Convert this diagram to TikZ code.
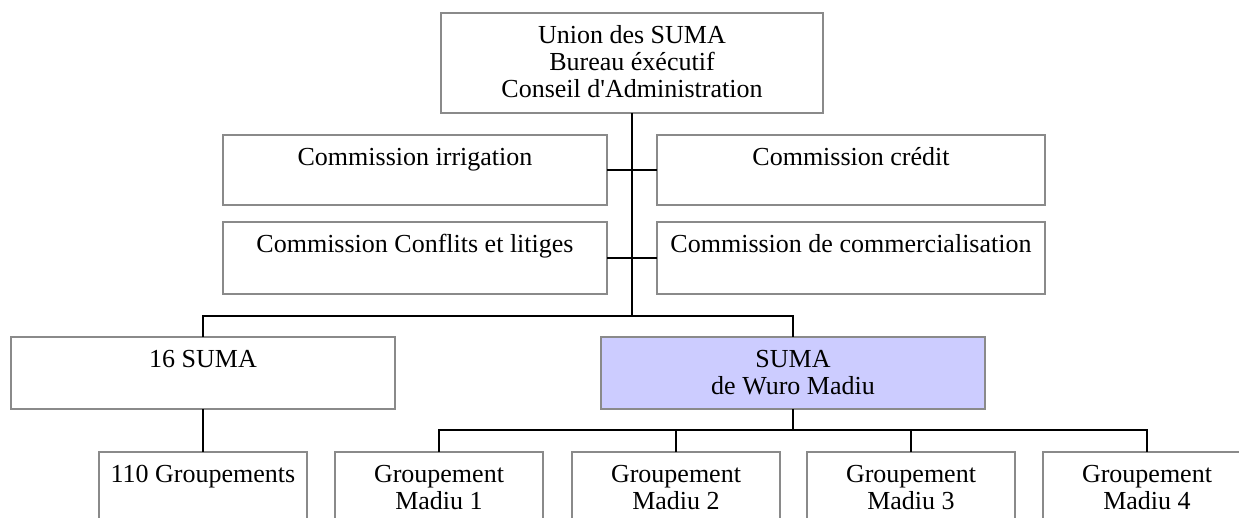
\documentclass[tikz,border=0pt]{standalone}
\usepackage{fontspec}
\setmainfont{Liberation Serif}[Ligatures=TeXOff]
\definecolor{boxgray}{RGB}{138,138,138}
\definecolor{wurofill}{RGB}{204,204,255}
\newcommand\lignes[1]{\begin{tabular}[t]{@{}c@{}}#1\end{tabular}}
\begin{document}
\begin{tikzpicture}[x=1pt,y=-1pt,
  boite/.style={draw=boxgray, line width=2pt, rectangle, inner sep=0pt, outer sep=0pt, anchor=north west},
  texte/.style={anchor=base, inner sep=0pt, outer sep=0pt, font=\fontsize{26}{27}\selectfont},
  lien/.style={draw=black, line width=2pt}]
\clip (0,0) rectangle (1239,517);
\fill[white] (0,0) rectangle (1239,517);
% boxes
\node[boite, minimum width=382pt, minimum height=100pt] (top) at (441,13) {};
\node[boite, minimum width=384pt, minimum height=70pt] (irr) at (223,135) {};
\node[boite, minimum width=388pt, minimum height=70pt] (cred) at (657,135) {};
\node[boite, minimum width=384pt, minimum height=72pt] (conf) at (223,222) {};
\node[boite, minimum width=388pt, minimum height=72pt] (com) at (657,222) {};
\node[boite, minimum width=384pt, minimum height=72pt] (s16) at (11,337) {};
\node[boite, fill=wurofill, minimum width=384pt, minimum height=72pt] (wuro) at (601,337) {};
\node[boite, minimum width=208pt, minimum height=90pt] (g110) at (99,452) {};
\node[boite, minimum width=208pt, minimum height=90pt] (m1) at (335,452) {};
\node[boite, minimum width=208pt, minimum height=90pt] (m2) at (572,452) {};
\node[boite, minimum width=208pt, minimum height=90pt] (m3) at (807,452) {};
\node[boite, minimum width=208pt, minimum height=90pt] (m4) at (1043,452) {};
% texts
\node[texte] (top-t) at (632,43) {\lignes{Union des SUMA\\Bureau éxécutif\\Conseil d'Administration}};
\node[texte] (irr-t) at (415,165) {Commission irrigation};
\node[texte] (cred-t) at (851,165) {Commission crédit};
\node[texte] (conf-t) at (415,252) {Commission Conflits et litiges};
\node[texte] (com-t) at (851,252) {Commission de commercialisation};
\node[texte] (s16-t) at (203,367) {16 SUMA};
\node[texte] (wuro-t) at (793,367) {\lignes{SUMA\\de Wuro Madiu}};
\node[texte] (g110-t) at (203,482) {110 Groupements};
\node[texte] (m1-t) at (439,482) {\lignes{Groupement\\Madiu 1}};
\node[texte] (m2-t) at (676,482) {\lignes{Groupement\\Madiu 2}};
\node[texte] (m3-t) at (911,482) {\lignes{Groupement\\Madiu 3}};
\node[texte] (m4-t) at (1147,482) {\lignes{Groupement\\Madiu 4}};
% connectors
\coordinate (bar) at (632,316);
\coordinate (bar2) at (793,430);
\draw[lien] (top.south) -- (bar);
\draw[lien] (irr.east) -- (cred.west);
\draw[lien] (conf.east) -- (com.west);
\draw[lien] (s16.north) |- (bar) -| (wuro.north);
\draw[lien] (s16.south) -- (g110.north);
\draw[lien] (wuro.south) -- (bar2);
\draw[lien] (m1.north) |- (bar2) -| (m4.north);
\draw[lien] (m2.north) -- (m2.north |- bar2);
\draw[lien] (m3.north) -- (m3.north |- bar2);
\end{tikzpicture}
\end{document}
